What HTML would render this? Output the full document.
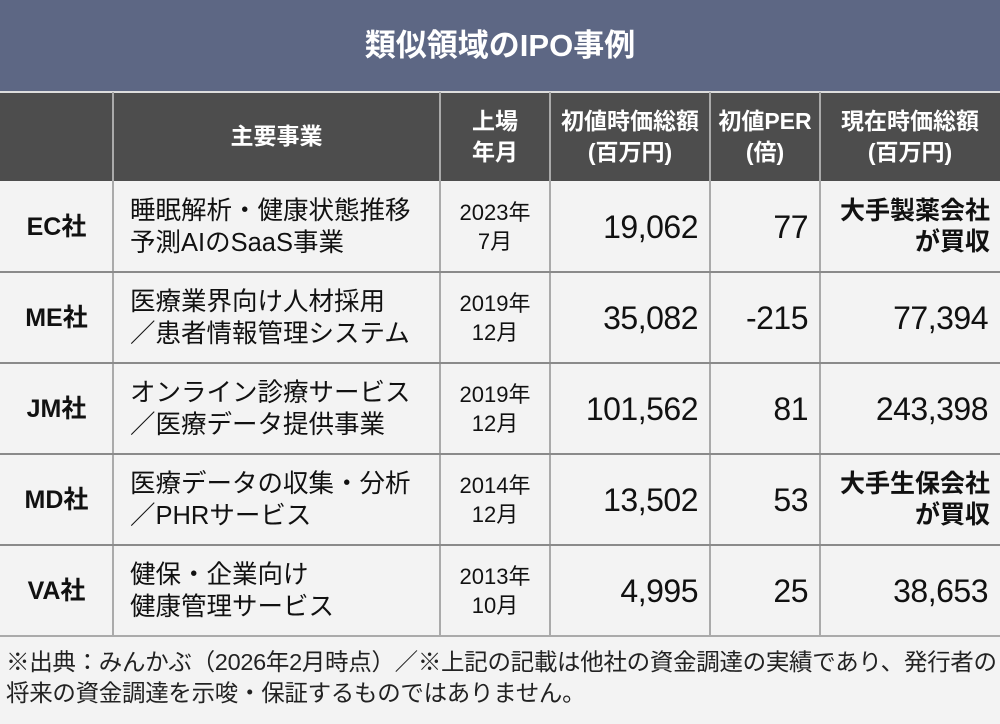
<!DOCTYPE html><html><head><meta charset="utf-8"><style>
body{margin:0;width:1000px;height:724px;background:#f3f3f3;font-family:"Liberation Sans","Noto Sans CJK JP",sans-serif;position:relative;overflow:hidden;color:#111}
div{position:absolute;box-sizing:border-box}
.t{left:0;top:0;width:1000px;height:91px;background:#5d6784;color:#fff;font-weight:bold;font-size:31px;text-align:center;line-height:91px}
.h{top:92px;height:89px;background:#4d4d4d}
.hc{top:92px;height:89px;color:#fff;font-weight:bold;font-size:23px;display:flex;align-items:center;justify-content:center;text-align:center;line-height:31px}
.vl{width:2px;background:#8a8a8a}
.hl{left:0;width:1000px;height:2px;background:#8a8a8a}
.c{display:flex;align-items:center;font-size:25.5px;line-height:32px;white-space:nowrap}
.n{font-weight:bold;justify-content:center;font-size:25px}
.y{justify-content:center;text-align:center;font-size:22px;line-height:29px}
.num{justify-content:flex-end;font-size:32px;padding-right:12px;letter-spacing:-0.5px}
.r{justify-content:flex-end;text-align:right;font-weight:bold;font-size:25px;padding-right:10px;line-height:31px}
</style></head><body>
<div class="t">類似領域のIPO事例</div>
<div class="h" style="left:0;width:1000px"></div>
<div class="hc" style="left:113px;width:327px">主要事業</div>
<div class="hc" style="left:440px;width:110px">上場<br>年月</div>
<div class="hc" style="left:550px;width:160px">初値時価総額<br>(百万円)</div>
<div class="hc" style="left:710px;width:110px">初値PER<br>(倍)</div>
<div class="hc" style="left:820px;width:180px">現在時価総額<br>(百万円)</div>
<div style="left:0;top:91px;width:1000px;height:2px;background:#ddd"></div>
<div class="vl" style="left:112px;top:92px;height:544px;background:#aaa"></div>
<div class="vl" style="left:439px;top:92px;height:544px;background:#aaa"></div>
<div class="vl" style="left:549px;top:92px;height:544px;background:#aaa"></div>
<div class="vl" style="left:709px;top:92px;height:544px;background:#aaa"></div>
<div class="vl" style="left:819px;top:92px;height:544px;background:#aaa"></div>
<div class="hl" style="top:271px"></div>
<div class="hl" style="top:362px"></div>
<div class="hl" style="top:453px"></div>
<div class="hl" style="top:544px"></div>
<div class="hl" style="top:635px;background:#aaa"></div>

<div class="c n" style="left:0;top:181px;width:113px;height:91px">EC社</div>
<div class="c" style="left:130px;top:181px;width:310px;height:91px">睡眠解析・健康状態推移<br>予測AIのSaaS事業</div>
<div class="c y" style="left:440px;top:181px;width:110px;height:91px">2023年<br>7月</div>
<div class="c num" style="left:550px;top:181px;width:160px;height:91px">19,062</div>
<div class="c num" style="left:710px;top:181px;width:110px;height:91px">77</div>
<div class="c r" style="left:820px;top:181px;width:180px;height:91px">大手製薬会社<br>が買収</div>

<div class="c n" style="left:0;top:272px;width:113px;height:91px">ME社</div>
<div class="c" style="left:130px;top:272px;width:310px;height:91px">医療業界向け人材採用<br>／患者情報管理システム</div>
<div class="c y" style="left:440px;top:272px;width:110px;height:91px">2019年<br>12月</div>
<div class="c num" style="left:550px;top:272px;width:160px;height:91px">35,082</div>
<div class="c num" style="left:710px;top:272px;width:110px;height:91px">-215</div>
<div class="c num" style="left:820px;top:272px;width:180px;height:91px">77,394</div>

<div class="c n" style="left:0;top:363px;width:113px;height:91px">JM社</div>
<div class="c" style="left:130px;top:363px;width:310px;height:91px">オンライン診療サービス<br>／医療データ提供事業</div>
<div class="c y" style="left:440px;top:363px;width:110px;height:91px">2019年<br>12月</div>
<div class="c num" style="left:550px;top:363px;width:160px;height:91px">101,562</div>
<div class="c num" style="left:710px;top:363px;width:110px;height:91px">81</div>
<div class="c num" style="left:820px;top:363px;width:180px;height:91px">243,398</div>

<div class="c n" style="left:0;top:454px;width:113px;height:91px">MD社</div>
<div class="c" style="left:130px;top:454px;width:310px;height:91px">医療データの収集・分析<br>／PHRサービス</div>
<div class="c y" style="left:440px;top:454px;width:110px;height:91px">2014年<br>12月</div>
<div class="c num" style="left:550px;top:454px;width:160px;height:91px">13,502</div>
<div class="c num" style="left:710px;top:454px;width:110px;height:91px">53</div>
<div class="c r" style="left:820px;top:454px;width:180px;height:91px">大手生保会社<br>が買収</div>

<div class="c n" style="left:0;top:545px;width:113px;height:91px">VA社</div>
<div class="c" style="left:130px;top:545px;width:310px;height:91px">健保・企業向け<br>健康管理サービス</div>
<div class="c y" style="left:440px;top:545px;width:110px;height:91px">2013年<br>10月</div>
<div class="c num" style="left:550px;top:545px;width:160px;height:91px">4,995</div>
<div class="c num" style="left:710px;top:545px;width:110px;height:91px">25</div>
<div class="c num" style="left:820px;top:545px;width:180px;height:91px">38,653</div>

<div style="left:6px;top:647px;width:1000px;font-size:23.5px;line-height:31px;color:#222;white-space:nowrap;letter-spacing:-0.3px">※出典：みんかぶ（2026年2月時点）／※上記の記載は他社の資金調達の実績であり、発行者の<br>将来の資金調達を示唆・保証するものではありません。</div>
</body></html>
